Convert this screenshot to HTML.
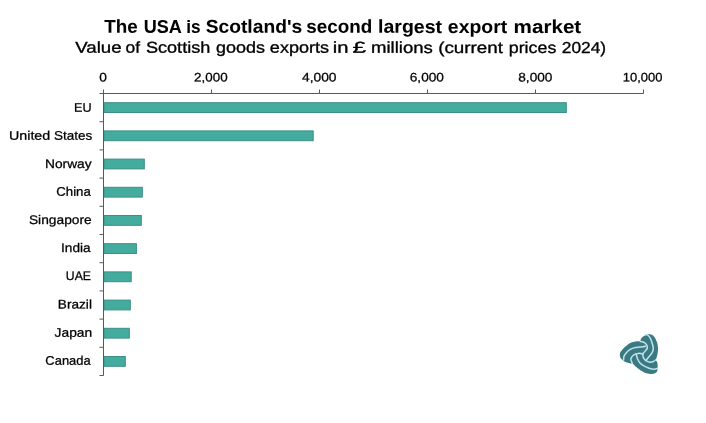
<!DOCTYPE html>
<html lang="en">
<head>
<meta charset="utf-8">
<title>The USA is Scotland's second largest export market</title>
<style>
html,body{margin:0;padding:0;background:#ffffff;}
body{width:706px;height:423px;overflow:hidden;}
svg{display:block;}
text{font-family:"Liberation Sans",sans-serif;fill:#000000;stroke:#000000;stroke-width:0.26px;stroke-linejoin:round;}
.title{font-weight:700;font-size:18.5px;stroke-width:0.05px;}
.sub{font-size:15.8px;stroke-width:0.32px;}
.lab{font-size:12.5px;}
</style>
</head>
<body>
<svg width="706" height="423" viewBox="0 0 706 423">
<rect x="0" y="0" width="706" height="423" fill="#ffffff"/>
<text class="title" transform="matrix(1 0.0005 0 1.0 0 -0.1700)"><tspan x="104.31" y="32.85" textLength="33.48" lengthAdjust="spacingAndGlyphs">The</tspan> <tspan x="143.64" y="32.85" textLength="38.14" lengthAdjust="spacingAndGlyphs">USA</tspan> <tspan x="186.24" y="32.85" textLength="14.31" lengthAdjust="spacingAndGlyphs">is</tspan> <tspan x="205.68" y="32.85" textLength="96.52" lengthAdjust="spacingAndGlyphs">Scotland's</tspan> <tspan x="306.22" y="32.85" textLength="66.04" lengthAdjust="spacingAndGlyphs">second</tspan> <tspan x="377.99" y="32.85" textLength="64.06" lengthAdjust="spacingAndGlyphs">largest</tspan> <tspan x="447.86" y="32.85" textLength="59.32" lengthAdjust="spacingAndGlyphs">export</tspan> <tspan x="513.59" y="32.85" textLength="67.67" lengthAdjust="spacingAndGlyphs">market</tspan></text>
<text class="sub" transform="matrix(1 0.0005 0 1.0 0 -0.1700)"><tspan x="75.23" y="52.85" textLength="46.41" lengthAdjust="spacingAndGlyphs">Value</tspan> <tspan x="125.54" y="52.85" textLength="14.52" lengthAdjust="spacingAndGlyphs">of</tspan> <tspan x="145.90" y="52.85" textLength="64.44" lengthAdjust="spacingAndGlyphs">Scottish</tspan> <tspan x="216.09" y="52.85" textLength="48.96" lengthAdjust="spacingAndGlyphs">goods</tspan> <tspan x="269.87" y="52.85" textLength="59.22" lengthAdjust="spacingAndGlyphs">exports</tspan> <tspan x="332.85" y="52.85" textLength="15.69" lengthAdjust="spacingAndGlyphs">in</tspan> <tspan x="352.54" y="52.85" textLength="13.69" lengthAdjust="spacingAndGlyphs">£</tspan> <tspan x="370.95" y="52.85" textLength="61.95" lengthAdjust="spacingAndGlyphs">millions</tspan> <tspan x="438.15" y="52.85" textLength="64.84" lengthAdjust="spacingAndGlyphs">(current</tspan> <tspan x="508.78" y="52.85" textLength="47.56" lengthAdjust="spacingAndGlyphs">prices</tspan> <tspan x="561.77" y="52.85" textLength="44.35" lengthAdjust="spacingAndGlyphs">2024)</tspan></text>
<g fill="#43ac9e" stroke="#3b8f86" stroke-width="1">
<rect x="104.00" y="102.70" width="462.30" height="9.80"/>
<rect x="104.00" y="130.90" width="209.20" height="9.80"/>
<rect x="104.00" y="159.10" width="40.30" height="9.80"/>
<rect x="104.00" y="187.30" width="38.30" height="9.80"/>
<rect x="104.00" y="215.50" width="37.30" height="9.80"/>
<rect x="104.00" y="243.70" width="32.40" height="9.80"/>
<rect x="104.00" y="271.90" width="27.20" height="9.80"/>
<rect x="104.00" y="300.10" width="26.30" height="9.80"/>
<rect x="104.00" y="328.30" width="25.30" height="9.80"/>
<rect x="104.00" y="356.50" width="21.30" height="9.80"/>
</g>
<path d="M103.5 89.5 V375.5 M99.5 93.5 H643.5 M211.5 89.5 V93.5 M319.5 89.5 V93.5 M427.5 89.5 V93.5 M535.5 89.5 V93.5 M643.5 89.5 V93.5 M99.5 121.70 H103.5 M99.5 149.90 H103.5 M99.5 178.10 H103.5 M99.5 206.30 H103.5 M99.5 234.50 H103.5 M99.5 262.70 H103.5 M99.5 290.90 H103.5 M99.5 319.10 H103.5 M99.5 347.30 H103.5 M99.5 375.50 H103.5" fill="none" stroke="#595959" stroke-width="1"/>
<text class="lab" transform="matrix(1 0.0005 0 1 0 -0.0515)"><tspan x="99.21" y="81.60" textLength="7.63" lengthAdjust="spacingAndGlyphs">0</tspan></text>
<text class="lab" transform="matrix(1 0.0005 0 1 0 -0.1055)"><tspan x="194.12" y="81.60" textLength="33.56" lengthAdjust="spacingAndGlyphs">2,000</tspan></text>
<text class="lab" transform="matrix(1 0.0005 0 1 0 -0.1597)"><tspan x="302.01" y="81.60" textLength="34.55" lengthAdjust="spacingAndGlyphs">4,000</tspan></text>
<text class="lab" transform="matrix(1 0.0005 0 1 0 -0.2135)"><tspan x="409.73" y="81.60" textLength="34.24" lengthAdjust="spacingAndGlyphs">6,000</tspan></text>
<text class="lab" transform="matrix(1 0.0005 0 1 0 -0.2676)"><tspan x="518.27" y="81.60" textLength="34.11" lengthAdjust="spacingAndGlyphs">8,000</tspan></text>
<text class="lab" transform="matrix(1 0.0005 0 1 0 -0.3216)"><tspan x="622.89" y="81.60" textLength="39.60" lengthAdjust="spacingAndGlyphs">10,000</tspan></text>
<text class="lab" transform="matrix(1 0.0005 0 1 0 -0.0414)"><tspan x="74.04" y="111.85" textLength="17.58" lengthAdjust="spacingAndGlyphs">EU</tspan></text>
<text class="lab" transform="matrix(1 0.0005 0 1 0 -0.0250)"><tspan x="8.94" y="139.75" textLength="41.31" lengthAdjust="spacingAndGlyphs">United</tspan> <tspan x="53.97" y="139.75" textLength="38.39" lengthAdjust="spacingAndGlyphs">States</tspan></text>
<text class="lab" transform="matrix(1 0.0005 0 1 0 -0.0343)"><tspan x="44.98" y="167.95" textLength="46.63" lengthAdjust="spacingAndGlyphs">Norway</tspan></text>
<text class="lab" transform="matrix(1 0.0005 0 1 0 -0.0369)"><tspan x="56.22" y="195.85" textLength="34.61" lengthAdjust="spacingAndGlyphs">China</tspan></text>
<text class="lab" transform="matrix(1 0.0005 0 1 0 -0.0302)"><tspan x="28.93" y="223.95" textLength="62.87" lengthAdjust="spacingAndGlyphs">Singapore</tspan></text>
<text class="lab" transform="matrix(1 0.0005 0 1 0 -0.0382)"><tspan x="61.08" y="251.95" textLength="29.61" lengthAdjust="spacingAndGlyphs">India</tspan></text>
<text class="lab" transform="matrix(1 0.0005 0 1 0 -0.0394)"><tspan x="65.85" y="280.05" textLength="25.17" lengthAdjust="spacingAndGlyphs">UAE</tspan></text>
<text class="lab" transform="matrix(1 0.0005 0 1 0 -0.0375)"><tspan x="57.86" y="308.55" textLength="34.07" lengthAdjust="spacingAndGlyphs">Brazil</tspan></text>
<text class="lab" transform="matrix(1 0.0005 0 1 0 -0.0366)"><tspan x="54.62" y="336.75" textLength="37.54" lengthAdjust="spacingAndGlyphs">Japan</tspan></text>
<text class="lab" transform="matrix(1 0.0005 0 1 0 -0.0341)"><tspan x="45.34" y="364.75" textLength="45.37" lengthAdjust="spacingAndGlyphs">Canada</tspan></text>
<g id="logo" stroke-linecap="round" stroke-linejoin="round">
<path fill="#3b7a83" stroke="none" d="M619.9 354.2 C619.95 353.92 619.97 353.03 620.20 352.50 C620.43 351.97 620.65 351.78 621.30 351.00 C621.95 350.22 623.05 348.85 624.10 347.80 C625.15 346.75 626.42 345.57 627.60 344.70 C628.78 343.83 629.90 343.13 631.20 342.60 C632.50 342.07 634.15 341.73 635.40 341.50 C636.65 341.27 637.90 341.25 638.70 341.20 C639.50 341.15 639.95 341.20 640.20 341.20 C640.32 340.88 640.52 339.98 640.90 339.30 C641.28 338.62 641.70 337.82 642.50 337.10 C643.30 336.38 644.70 335.48 645.70 335.00 C646.70 334.52 647.62 334.27 648.50 334.20 C649.38 334.13 650.02 334.13 651.00 334.60 C651.98 335.07 653.35 335.57 654.40 337.00 C655.45 338.43 656.70 341.20 657.30 343.20 C657.90 345.20 657.97 347.20 658.00 349.00 C658.03 350.80 657.73 352.58 657.50 354.00 C657.27 355.42 656.93 356.52 656.60 357.50 C656.27 358.48 655.68 359.50 655.50 359.90 C655.75 360.22 656.65 361.03 657.00 361.80 C657.35 362.57 657.48 363.48 657.60 364.50 C657.72 365.52 657.77 366.82 657.70 367.90 C657.63 368.98 657.45 370.23 657.20 371.00 C656.95 371.77 656.65 372.10 656.20 372.50 C655.75 372.90 655.32 373.17 654.50 373.40 C653.68 373.63 652.67 373.93 651.30 373.90 C649.93 373.87 648.12 373.82 646.30 373.20 C644.48 372.58 642.18 371.32 640.40 370.20 C638.62 369.08 636.72 367.43 635.60 366.50 C634.48 365.57 634.22 365.20 633.70 364.60 C633.18 364.00 632.70 363.18 632.50 362.90 C632.17 362.98 631.43 363.47 630.50 363.40 C629.57 363.33 628.08 362.95 626.90 362.50 C625.72 362.05 624.40 361.35 623.40 360.70 C622.40 360.05 621.47 359.35 620.90 358.60 C620.33 357.85 620.17 356.93 620.00 356.20 C619.83 355.47 619.92 354.53 619.90 354.20 Z"/>
<g fill="none" stroke="#bfe4e9" stroke-width="1.5">
<path d="M623.6 359.9 C623.68 359.27 623.67 357.27 624.10 356.10 C624.53 354.93 625.25 353.97 626.20 352.90 C627.15 351.83 628.50 350.53 629.80 349.70 C631.10 348.87 632.42 348.33 634.00 347.90 C635.58 347.47 637.80 347.28 639.30 347.10 C640.80 346.92 641.95 346.97 643.00 346.80 C644.05 346.63 645.17 346.22 645.60 346.10"/>
<path d="M632.2 363.0 C631.97 362.38 630.80 360.40 630.80 359.30 C630.80 358.20 631.55 357.23 632.20 356.40 C632.85 355.57 633.68 354.80 634.70 354.30 C635.72 353.80 637.25 353.53 638.30 353.40 C639.35 353.27 640.27 353.33 641.00 353.50 C641.73 353.67 642.42 354.25 642.70 354.40"/>
<path d="M645.7 334.9 C646.02 334.92 646.82 334.42 647.60 335.00 C648.38 335.58 649.60 336.90 650.40 338.40 C651.20 339.90 651.92 342.25 652.40 344.00 C652.88 345.75 653.37 347.42 653.30 348.90 C653.23 350.38 652.75 351.57 652.00 352.90 C651.25 354.23 649.80 355.67 648.80 356.90 C647.80 358.13 646.47 359.73 646.00 360.30"/>
<path d="M640.3 341.3 C640.68 341.40 641.82 341.62 642.60 341.90 C643.38 342.18 644.28 342.43 645.00 343.00 C645.72 343.57 646.52 344.47 646.90 345.30 C647.28 346.13 647.55 347.07 647.30 348.00 C647.05 348.93 646.08 350.03 645.40 350.90 C644.72 351.77 643.65 352.58 643.20 353.20 C642.75 353.82 642.78 354.37 642.70 354.60"/>
<path d="M657.7 368.3 C657.10 368.47 655.53 369.32 654.10 369.30 C652.67 369.28 650.87 368.82 649.10 368.20 C647.33 367.58 644.98 366.43 643.50 365.60 C642.02 364.77 641.15 364.22 640.20 363.20 C639.25 362.18 638.42 360.80 637.80 359.50 C637.18 358.20 636.80 356.33 636.50 355.40 C636.20 354.47 636.08 354.15 636.00 353.90"/>
<path d="M655.5 360.0 C655.15 360.25 654.33 361.13 653.40 361.50 C652.47 361.87 651.15 362.33 649.90 362.20 C648.65 362.07 646.97 361.42 645.90 360.70 C644.83 359.98 644.03 358.92 643.50 357.90 C642.97 356.88 642.83 355.15 642.70 354.60"/>
</g>
</g>
</svg>
</body>
</html>
